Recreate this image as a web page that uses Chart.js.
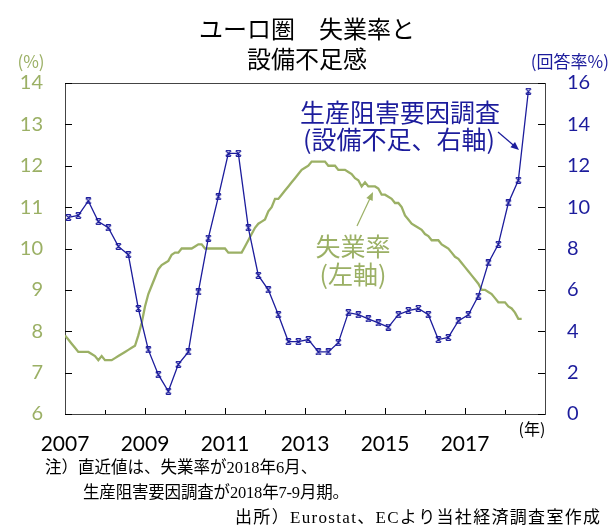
<!DOCTYPE html>
<html>
<head>
<meta charset="utf-8">
<script src="https://cdn.jsdelivr.net/npm/chart.js@4"></script>
<style>
  body{ margin:0; background:#fff; }
  #wrap{ width:610px; height:527px; position:relative; }
</style>
</head>
<body>
<div id="wrap"><canvas id="c"></canvas></div>
<script>
// months counted from 2007-01 (x=0); year labels every other year
const yearLabels = ['2007','2009','2011','2013','2015','2017'];

// unemployment rate, monthly 2007-01 .. 2018-06 (%)
const unemployment = [
  7.9,7.8,7.7,7.6,7.5,7.5,7.5,7.5,7.45,7.4,7.3,7.4,
  7.3,7.3,7.3,7.35,7.4,7.45,7.5,7.55,7.6,7.65,7.9,8.2,
  8.6,8.9,9.1,9.3,9.5,9.6,9.65,9.7,9.85,9.9,9.9,10.0,
  10.0,10.0,10.0,10.05,10.1,10.1,10.0,10.0,10.0,10.0,10.0,10.0,
  10.0,9.9,9.9,9.9,9.9,9.9,10.05,10.2,10.35,10.5,10.6,10.65,
  10.7,10.9,11.0,11.2,11.2,11.3,11.4,11.5,11.6,11.7,11.8,11.9,
  11.95,12.0,12.1,12.1,12.1,12.1,12.1,12.0,12.0,12.0,11.9,11.9,
  11.9,11.85,11.8,11.7,11.65,11.5,11.6,11.5,11.5,11.5,11.45,11.3,
  11.3,11.25,11.2,11.1,11.1,11.0,10.8,10.7,10.6,10.55,10.5,10.45,
  10.35,10.3,10.2,10.2,10.2,10.1,10.05,10.0,9.9,9.8,9.75,9.65,
  9.55,9.45,9.35,9.25,9.15,9.0,9.0,8.95,8.9,8.8,8.7,8.7,
  8.7,8.6,8.55,8.45,8.3,8.3
];

// EC survey: equipment shortage as factor limiting production, quarterly 2007Q1 .. 2018Q3 (%)
const equipShortage = [
  9.5,9.6,10.3,9.3,
  9.0,8.1,7.7,5.1,
  3.1,1.9,1.1,2.4,
  3.0,5.9,8.5,10.5,
  12.6,12.6,9.0,6.7,
  6.0,4.8,3.5,3.5,
  3.6,3.0,3.0,3.45,
  4.9,4.8,4.6,4.4,
  4.2,4.8,5.0,5.1,
  4.8,3.6,3.7,4.5,
  4.8,5.7,7.3,8.2,
  10.2,11.3,15.6
];

const GREEN = '#9bb065';
const BLUE = '#1c1c9c';
const JP = '"Noto Sans CJK JP", sans-serif';
const SERIF = '"Liberation Serif", "Noto Sans CJK JP", serif';

const unempPts = unemployment.map((v,i) => ({ x:i, y:v }));
const equipPts = equipShortage.map((v,i) => ({ x:1+i*3, y:v }));

// hourglass-like marker for the survey series
const mark = document.createElement('canvas');
mark.width = 7; mark.height = 7;
(function(){
  const g = mark.getContext('2d');
  g.strokeStyle = BLUE; g.lineWidth = 1.1;
  g.beginPath();
  g.moveTo(0.8,0.8); g.lineTo(6.2,6.2);
  g.moveTo(6.2,0.8); g.lineTo(0.8,6.2);
  g.moveTo(1.2,0.6); g.lineTo(5.8,0.6);
  g.moveTo(1.2,6.4); g.lineTo(5.8,6.4);
  g.stroke();
})();

function arrow(ctx, x1, y1, x2, y2, color, head){
  const a = Math.atan2(y2-y1, x2-x1);
  ctx.save();
  ctx.strokeStyle = color; ctx.fillStyle = color; ctx.lineWidth = 1.2;
  ctx.beginPath(); ctx.moveTo(x1,y1); ctx.lineTo(x2 - Math.cos(a)*head*0.8, y2 - Math.sin(a)*head*0.8); ctx.stroke();
  ctx.beginPath();
  ctx.moveTo(x2,y2);
  ctx.lineTo(x2 - head*Math.cos(a-0.4), y2 - head*Math.sin(a-0.4));
  ctx.lineTo(x2 - head*Math.cos(a+0.4), y2 - head*Math.sin(a+0.4));
  ctx.closePath(); ctx.fill();
  ctx.restore();
}

// text stretched to a given width (source line is set wider than the notes)
function fitText(ctx, txt, x, y, w){
  const n = [...txt].length;
  const nat = ctx.measureText(txt).width;
  if('letterSpacing' in ctx){
    ctx.letterSpacing = ((w - nat) / (n - 1)).toFixed(2) + 'px';
    ctx.fillText(txt, x, y);
    ctx.letterSpacing = '0px';
  } else {
    ctx.fillText(txt, x, y, w);
  }
}

const decor = {
  id:'decor',
  beforeDatasetsDraw(chart){
    const { ctx, chartArea:a, scales } = chart;
    ctx.save();
    ctx.strokeStyle = '#444'; ctx.lineWidth = 1;
    ctx.strokeRect(a.left+0.5, a.top+0.5, a.right-a.left, a.bottom-a.top);
    ctx.strokeStyle = '#000';
    ctx.beginPath();
    // inward tick marks
    for(let v=6; v<=14; v++){
      const y = Math.round(scales.y.getPixelForValue(v))+0.5;
      ctx.moveTo(a.left, y); ctx.lineTo(a.left+7, y);
    }
    for(let v=0; v<=16; v+=2){
      const y = Math.round(scales.y1.getPixelForValue(v))+0.5;
      ctx.moveTo(a.right-7, y); ctx.lineTo(a.right, y);
    }
    for(let m=12; m<144; m+=12){
      const x = Math.round(scales.x.getPixelForValue(m))+0.5;
      ctx.moveTo(x, a.bottom); ctx.lineTo(x, a.bottom - (m%24===0 ? 6 : 4));
    }
    ctx.stroke();
    ctx.restore();
  },
  afterDraw(chart){
    const { ctx } = chart;
    ctx.save();
    ctx.textAlign = 'center'; ctx.textBaseline = 'middle';
    ctx.fillStyle = '#000';
    ctx.font = '24px ' + JP;
    ctx.fillText('ユーロ圏　失業率と', 307, 29);
    ctx.fillText('設備不足感', 307, 59);

    ctx.font = '17px ' + JP;
    ctx.fillStyle = GREEN;
    ctx.fillText('(%)', 31, 62);
    ctx.fillStyle = BLUE;
    ctx.textAlign = 'right';
    ctx.fillText('(回答率%)', 609, 62);

    ctx.textAlign = 'center';
    ctx.font = '25px ' + JP;
    ctx.fillText('生産阻害要因調査', 400, 112);
    ctx.fillText('(設備不足、右軸)', 399, 139);
    arrow(ctx, 498, 132, 519, 150, BLUE, 9);

    ctx.fillStyle = GREEN;
    ctx.fillText('失業率', 353, 246);
    ctx.fillText('(左軸)', 353, 274);
    arrow(ctx, 357, 226, 373, 192, GREEN, 9);

    ctx.fillStyle = '#000';
    ctx.font = '16px ' + JP;
    ctx.fillText('(年)', 532, 429);

    ctx.textAlign = 'left';
    ctx.font = '16.5px ' + SERIF;
    ctx.fillText('注）直近値は、失業率が2018年6月、', 45, 469);
    fitText(ctx, '生産阻害要因調査が2018年7-9月期。', 83, 494, 266);
    ctx.font = '17px ' + SERIF;
    fitText(ctx, '出所）Eurostat、ECより当社経済調査室作成', 235, 519, 365);
    ctx.restore();
  }
};

new Chart(document.getElementById('c'), {
  type:'line',
  data:{
    datasets:[
      { label:'失業率', data:unempPts, yAxisID:'y', borderColor:GREEN, borderWidth:2.3,
        pointRadius:0, tension:0, order:2 },
      { label:'生産阻害要因調査', data:equipPts, yAxisID:'y1', borderColor:BLUE, borderWidth:1.3,
        pointStyle:mark, pointRadius:3.5, tension:0, order:1 }
    ]
  },
  options:{
    responsive:true, maintainAspectRatio:false, animation:false,
    layout:{ padding:{ top:83, bottom:73, left:0, right:0 } },
    plugins:{ legend:{ display:false }, tooltip:{ enabled:false } },
    scales:{
      x:{
        type:'linear', min:0, max:144,
        afterFit: s => { s.height = 40; },
        grid:{ display:false, drawTicks:false },
        border:{ display:true, color:'#000', width:1 },
        ticks:{
          stepSize:12, autoSkip:false, maxRotation:0, padding:18, color:'#000',
          font:{ family:'Lato', size:21 },
          callback: v => (v % 24 === 0 && v < 144) ? yearLabels[v/24] : ''
        }
      },
      y:{
        position:'left', min:6, max:14,
        afterFit: s => { s.width = 65; },
        grid:{ display:false, drawTicks:false },
        border:{ display:true, color:'#000', width:1 },
        ticks:{ stepSize:1, padding:22, color:GREEN, font:{ family:'Lato', size:20 } }
      },
      y1:{
        position:'right', min:0, max:16,
        afterFit: s => { s.width = 65; },
        grid:{ display:false, drawTicks:false },
        border:{ display:true, color:'#000', width:1 },
        ticks:{ stepSize:2, padding:22, color:BLUE, font:{ family:'Lato', size:20 } }
      }
    }
  },
  plugins:[decor]
});
</script>
</body>
</html>
